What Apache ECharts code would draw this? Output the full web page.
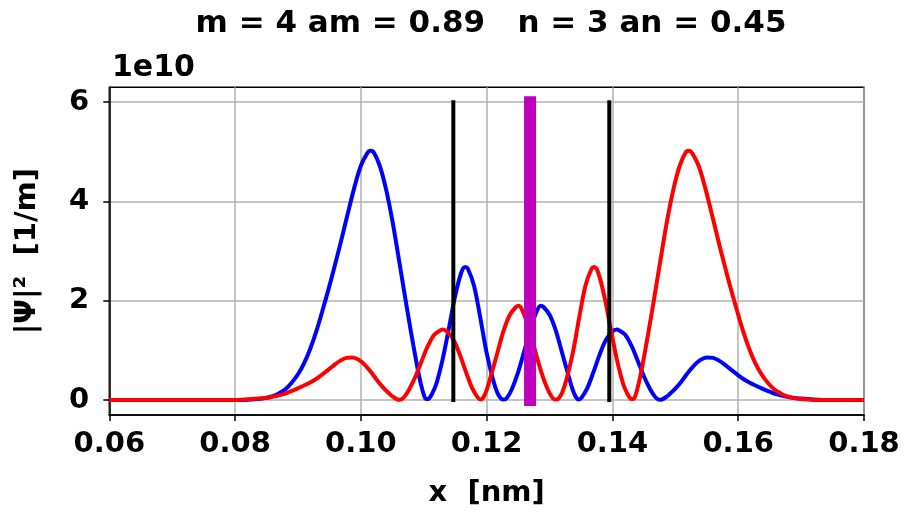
<!DOCTYPE html>
<html>
<head>
<meta charset="utf-8">
<script src="https://cdn.jsdelivr.net/npm/echarts@6/dist/echarts.min.js"></script>
<style>
html,body{margin:0;padding:0;background:#fff;}
#chart{width:905px;height:513px;}
</style>
</head>
<body>
<div id="chart"></div>
<script>
const titleText = 'm = 4 am = 0.89   n = 3 an = 0.45';
const scaleText = '1e10';
const xName = 'x  [nm]';
const yName = '|Ψ|²  [1/m]';
const xTicks = [0.06, 0.08, 0.10, 0.12, 0.14, 0.16, 0.18];
const yTicks = [0, 2, 4, 6];

// [x (nm), |psi|^2 (1e10 1/m)]
const bluePoints = [[0.060,0],[0.078,0],[0.080,0.002],[0.082,0.008],[0.084,0.025],[0.085,0.045],[0.086,0.08],[0.087,0.14],[0.088,0.22],[0.089,0.35],[0.090,0.52],[0.091,0.75],[0.092,1.05],[0.093,1.42],[0.094,1.85],[0.095,2.30],[0.096,2.78],[0.097,3.28],[0.098,3.80],[0.099,4.30],[0.100,4.72],[0.101,4.97],[0.1015,5.02],[0.102,5.00],[0.103,4.72],[0.104,4.25],[0.105,3.62],[0.106,2.87],[0.107,2.10],[0.108,1.35],[0.109,0.65],[0.1095,0.35],[0.110,0.11],[0.1104,0.02],[0.1108,0.03],[0.1113,0.12],[0.112,0.33],[0.113,0.82],[0.114,1.45],[0.115,2.10],[0.116,2.58],[0.1166,2.68],[0.117,2.65],[0.118,2.30],[0.119,1.65],[0.120,0.95],[0.121,0.42],[0.1217,0.15],[0.1223,0.03],[0.1227,0.01],[0.1232,0.04],[0.124,0.22],[0.125,0.56],[0.126,1.00],[0.127,1.45],[0.128,1.80],[0.1286,1.90],[0.129,1.88],[0.130,1.72],[0.131,1.40],[0.132,0.95],[0.133,0.50],[0.1337,0.20],[0.1342,0.06],[0.1346,0.01],[0.1351,0.05],[0.136,0.24],[0.137,0.57],[0.138,0.93],[0.139,1.22],[0.140,1.38],[0.1407,1.42],[0.141,1.41],[0.142,1.32],[0.143,1.10],[0.144,0.80],[0.145,0.48],[0.146,0.22],[0.1467,0.08],[0.1472,0.02],[0.1476,0.005],[0.148,0.02],[0.1485,0.06],[0.149,0.11],[0.150,0.23],[0.151,0.38],[0.152,0.55],[0.153,0.70],[0.154,0.81],[0.155,0.86],[0.156,0.85],[0.157,0.79],[0.158,0.70],[0.159,0.60],[0.160,0.50],[0.161,0.41],[0.162,0.34],[0.163,0.28],[0.164,0.22],[0.165,0.17],[0.166,0.12],[0.168,0.06],[0.170,0.03],[0.172,0.01],[0.174,0.003],[0.176,0],[0.180,0]];

const redPoints = [[0.060,0],[0.0757,0],[0.0777,0],[0.0797,0.003],[0.0817,0.01],[0.0837,0.03],[0.0857,0.06],[0.0877,0.12],[0.0887,0.17],[0.0897,0.22],[0.0907,0.28],[0.0917,0.34],[0.0927,0.41],[0.0937,0.50],[0.0947,0.60],[0.0957,0.70],[0.0967,0.79],[0.0977,0.85],[0.0987,0.86],[0.0997,0.81],[0.1007,0.70],[0.1017,0.55],[0.1027,0.38],[0.1037,0.23],[0.1047,0.11],[0.1052,0.06],[0.1057,0.02],[0.1061,0.005],[0.1065,0.02],[0.1070,0.08],[0.1077,0.22],[0.1087,0.48],[0.1097,0.80],[0.1107,1.10],[0.1117,1.32],[0.1127,1.41],[0.1130,1.42],[0.1137,1.38],[0.1147,1.22],[0.1157,0.93],[0.1167,0.57],[0.1177,0.24],[0.1186,0.05],[0.1191,0.01],[0.1195,0.06],[0.1200,0.20],[0.1207,0.50],[0.1217,0.95],[0.1227,1.40],[0.1237,1.72],[0.1247,1.88],[0.1251,1.90],[0.1257,1.80],[0.1267,1.45],[0.1277,1.00],[0.1287,0.56],[0.1297,0.22],[0.1305,0.04],[0.1310,0.01],[0.1314,0.03],[0.1320,0.15],[0.1327,0.42],[0.1337,0.95],[0.1347,1.65],[0.1357,2.30],[0.1367,2.65],[0.1371,2.68],[0.1377,2.58],[0.1387,2.10],[0.1397,1.45],[0.1407,0.82],[0.1417,0.33],[0.1424,0.12],[0.1429,0.03],[0.1433,0.02],[0.1437,0.11],[0.1442,0.35],[0.1447,0.65],[0.1457,1.35],[0.1467,2.10],[0.1477,2.87],[0.1487,3.62],[0.1497,4.25],[0.1507,4.72],[0.1517,5.00],[0.1522,5.02],[0.1527,4.97],[0.1537,4.72],[0.1547,4.30],[0.1557,3.80],[0.1567,3.28],[0.1577,2.78],[0.1587,2.30],[0.1597,1.85],[0.1607,1.42],[0.1617,1.05],[0.1627,0.75],[0.1637,0.52],[0.1647,0.35],[0.1657,0.22],[0.1667,0.14],[0.1677,0.08],[0.1687,0.045],[0.1697,0.025],[0.1717,0.008],[0.1737,0.002],[0.1757,0],[0.180,0]];

const blackLineX = [0.1147, 0.1395];
const magentaLineX = [0.1269];
const vLineY = [0, 6];

const FONT = 'DejaVu Sans';
const vline = (x) => vLineY.map(y => [x, y]);

const chart = echarts.init(document.getElementById('chart'), null, {renderer: 'canvas'});
const series = [
  {type: 'line', data: bluePoints, symbol: 'none', smooth: 0.35, lineStyle: {color: '#0000ff', width: 4, join: 'round'}, z: 2},
  {type: 'line', data: redPoints, symbol: 'none', smooth: 0.35, lineStyle: {color: '#ff0000', width: 4, join: 'round'}, z: 3}
];
blackLineX.forEach(x => series.push({type: 'line', data: vline(x), symbol: 'none', lineStyle: {color: '#000000', width: 4, cap: 'square'}, z: 4}));
magentaLineX.forEach(x => series.push({type: 'line', data: vline(x), symbol: 'none', lineStyle: {color: '#bf00bf', width: 12, cap: 'square'}, z: 5}));

chart.setOption({
  animation: false,
  backgroundColor: '#ffffff',
  title: [
    {text: titleText, left: 486, top: 3, textAlign: 'center',
     textStyle: {fontFamily: FONT, fontWeight: 'bold', fontSize: 31, color: '#000'}},
    {text: scaleText, left: 107, top: 48,
     textStyle: {fontFamily: FONT, fontWeight: 'bold', fontSize: 30, color: '#000'}}
  ],
  grid: {left: 109.3, right: 41, top: 87.3, bottom: 95.3, show: true, borderColor: '#000', borderWidth: 1.5, backgroundColor: 'transparent'},
  xAxis: {
    type: 'value', min: 0.06, max: 0.18,
    name: xName, nameLocation: 'middle', nameGap: 64,
    nameTextStyle: {fontFamily: FONT, fontWeight: 'bold', fontSize: 29, color: '#000'},
    axisLine: {show: true, onZero: false, lineStyle: {color: '#000', width: 1.5}},
    axisTick: {show: true, length: 6, customValues: xTicks, lineStyle: {color: '#000', width: 1.5}},
    axisLabel: {customValues: xTicks, margin: 15, fontFamily: FONT, fontWeight: 'bold', fontSize: 29, color: '#000',
      formatter: v => v.toFixed(2)},
    splitLine: {show: true, lineStyle: {color: '#b0b0b0', width: 1.5}}
  },
  yAxis: {
    type: 'value', min: -0.3, max: 6.3,
    name: yName, nameLocation: 'middle', nameGap: 67,
    nameTextStyle: {fontFamily: FONT, fontWeight: 'bold', fontSize: 29, color: '#000'},
    axisLine: {show: true, onZero: false, lineStyle: {color: '#000', width: 1.5}},
    axisTick: {show: true, length: 6, customValues: yTicks, lineStyle: {color: '#000', width: 1.5}},
    axisLabel: {customValues: yTicks, margin: 20, fontFamily: FONT, fontWeight: 'bold', fontSize: 29, color: '#000',
      formatter: v => String(Math.round(v))},
    splitLine: {show: true, lineStyle: {color: '#b0b0b0', width: 1.5}}
  },
  series: series
});
</script>
</body>
</html>
